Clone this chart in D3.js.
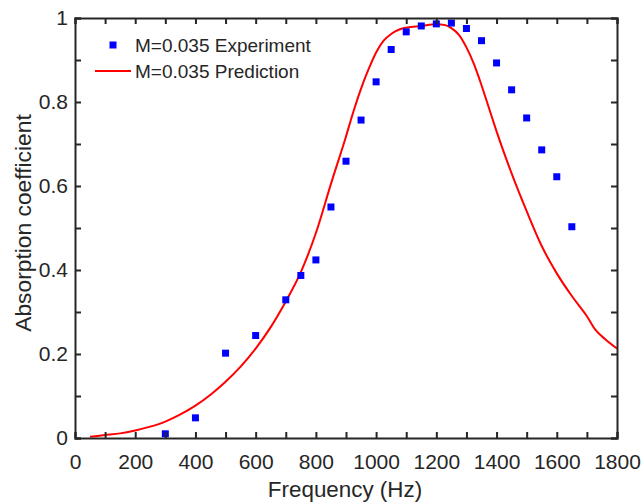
<!DOCTYPE html>
<html><head><meta charset="utf-8">
<script src="https://cdn.jsdelivr.net/npm/d3@7"></script>
<style>body{margin:0;background:#fff;} svg text{font-family:"Liberation Sans",Arial,sans-serif;fill:#262626;}</style>
</head><body>
<script>
const expFreq = [300,400,500,600,700,750,800,850,900,950,1000,1050,1100,1150,1200,1250,1300,1350,1400,1450,1500,1550,1600,1650];
const expVal  = [0.010,0.048,0.202,0.244,0.329,0.387,0.424,0.550,0.659,0.757,0.848,0.925,0.967,0.981,0.986,0.988,0.975,0.946,0.893,0.829,0.762,0.686,0.622,0.503];
const predFreq = [50,100,150,200,250,300,350,400,450,500,550,600,650,700,750,800,850,900,925,950,975,1000,1025,1050,1075,1100,1150,1200,1230,1250,1275,1300,1325,1350,1375,1400,1450,1500,1550,1600,1650,1700,1730,1760,1800];
const predVal  = [0.003,0.007,0.011,0.018,0.027,0.039,0.056,0.077,0.103,0.134,0.170,0.213,0.264,0.325,0.395,0.488,0.605,0.718,0.778,0.832,0.878,0.918,0.946,0.962,0.972,0.977,0.981,0.985,0.983,0.976,0.960,0.930,0.890,0.840,0.785,0.730,0.630,0.540,0.457,0.392,0.338,0.290,0.256,0.236,0.213];
const xTicks = [0,200,400,600,800,1000,1200,1400,1600,1800];
const yTicks = [0,0.2,0.4,0.6,0.8,1];
const legendLabels = ["M=0.035 Experiment","M=0.035 Prediction"];

const W=643,H=502, L=75,R=617,T=18,B=438;
const svg=d3.select("body").append("svg").attr("width",W).attr("height",H);
const x=d3.scaleLinear().domain([0,1800]).range([L,R]);
const y=d3.scaleLinear().domain([0,1]).range([B,T]);
const axisColor="#262626";

// data
const line=d3.line().curve(d3.curveMonotoneX).x((d,i)=>x(predFreq[i])).y((d,i)=>y(predVal[i]));
svg.append("path").datum(predVal).attr("d",line).attr("fill","none").attr("stroke","#ff0000").attr("stroke-width",2);
svg.selectAll("rect.pt").data(expFreq).enter().append("rect").attr("class","pt")
  .attr("x",(d)=>x(d)-3.5).attr("y",(d,i)=>y(expVal[i])-3.5).attr("width",7).attr("height",7).attr("fill","#0000ff");

// axes with inward ticks
const minorX=d3.range(0,1801,100), minorY=d3.range(0,1.0001,0.1);
const g=svg.append("g");
const axB=d3.axisBottom(x).tickValues(minorX).tickSize(-6).tickFormat(d=>xTicks.includes(d)?d:"").tickPadding(16);
const axT=d3.axisTop(x).tickValues(minorX).tickSize(-6).tickFormat("");
const axL=d3.axisLeft(y).tickValues(minorY).tickSize(-6).tickFormat(d=>{const r=Math.round(d*10)/10; return yTicks.some(t=>Math.abs(t-r)<1e-9)?d3.format("~g")(r):"";}).tickPadding(7);
const axR=d3.axisRight(y).tickValues(minorY).tickSize(-6).tickFormat("");
[[axB,`translate(0,${B})`],[axT,`translate(0,${T})`],[axL,`translate(${L},0)`],[axR,`translate(${R},0)`]].forEach(([a,t])=>{
  const gg=g.append("g").attr("transform",t).call(a);
  gg.select(".domain").attr("stroke",axisColor).attr("stroke-width",2);
  gg.selectAll(".tick line").attr("stroke",axisColor).attr("stroke-width",2);
  gg.selectAll("text").attr("font-size",21).attr("fill",axisColor).style("font-family","Liberation Sans, Arial, sans-serif");
});

// axis titles
svg.append("text").attr("x",345).attr("y",497).attr("text-anchor","middle").attr("font-size",22.4).text("Frequency (Hz)");
svg.append("text").attr("transform",`translate(31,223) rotate(-90)`).attr("text-anchor","middle").attr("font-size",22.8).text("Absorption coefficient");

// legend
const lg=svg.append("g");
lg.append("rect").attr("x",113-3.5).attr("y",45-3.5).attr("width",7).attr("height",7).attr("fill","#0000ff");
lg.append("line").attr("x1",95).attr("x2",131).attr("y1",71).attr("y2",71).attr("stroke","#ff0000").attr("stroke-width",2);
lg.selectAll("text").data(legendLabels).enter().append("text").attr("x",135).attr("y",(d,i)=>45+i*26).attr("dy","0.35em").attr("font-size",19).text(d=>d);
</script>
</body></html>
